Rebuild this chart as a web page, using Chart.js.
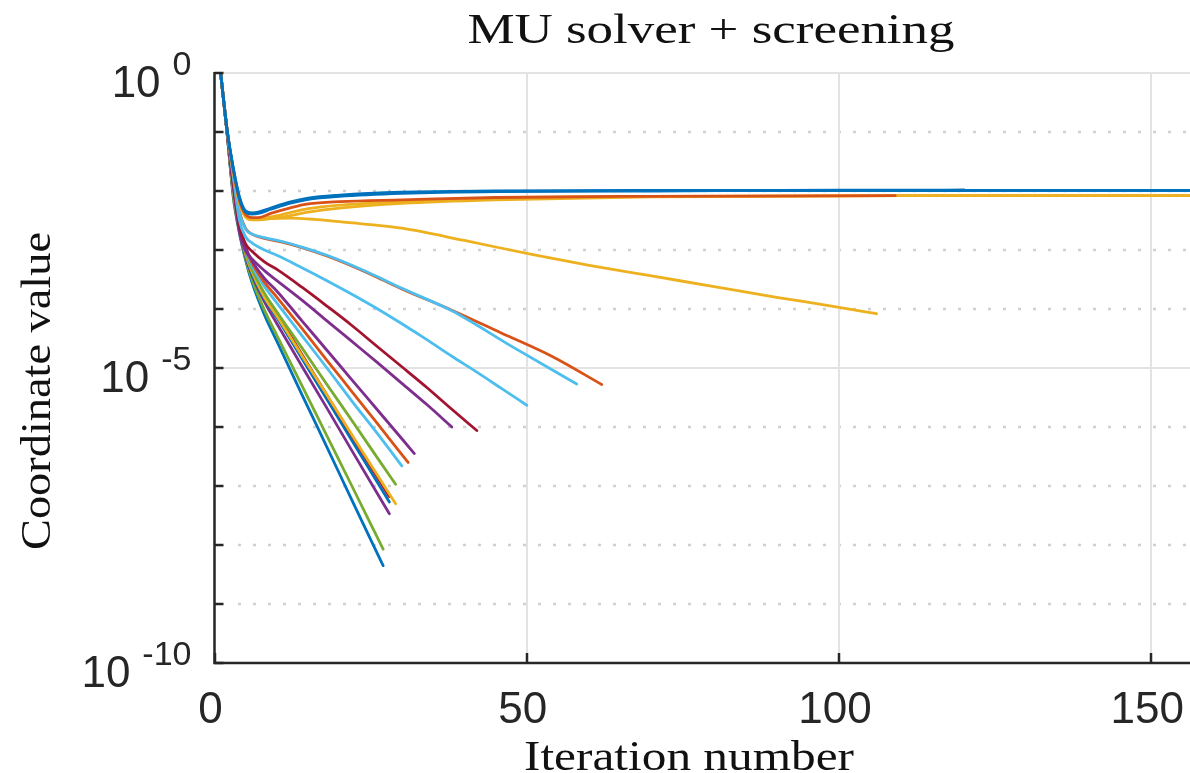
<!DOCTYPE html>
<html>
<head>
<meta charset="utf-8">
<title>MU solver + screening</title>
<script src="https://cdn.jsdelivr.net/npm/chart.js@4/dist/chart.umd.min.js"></script>
<style>
  html, body { margin: 0; padding: 0; background: #ffffff; overflow: hidden; }
  canvas { display: block; }
</style>
</head>
<body>
<canvas id="c" width="1190" height="773"></canvas>
<script>
// ---- data: coordinate value per iteration, one pair of arrays per coordinate ----
const blueFlatAIter = [1, 2, 3, 4, 5, 6, 7, 9, 12, 15, 20, 30, 45, 70, 110, 157];
const blueFlatAVal  = [0.955, 0.112, 0.0251, 7.94e-3, 4.57e-3, 4.27e-3, 4.37e-3, 5.13e-3, 6.46e-3, 7.59e-3, 8.51e-3, 9.55e-3, 1.0e-2, 1.02e-2, 1.02e-2, 1.02e-2];

const blueFlatBIter = [1, 2, 3, 4, 5, 6, 7, 9, 12, 15, 20, 30, 45, 70, 100, 120];
const blueFlatBVal  = [0.955, 0.112, 0.024, 7.59e-3, 4.37e-3, 4.07e-3, 4.17e-3, 4.90e-3, 6.17e-3, 7.24e-3, 8.13e-3, 9.12e-3, 9.77e-3, 1.0e-2, 1.03e-2, 1.04e-2];

const orangeFlatIter = [1, 2, 3, 4, 5, 6, 7, 9, 12, 15, 20, 30, 45, 70, 109];
const orangeFlatVal  = [0.955, 0.112, 0.0224, 6.76e-3, 3.98e-3, 3.55e-3, 3.55e-3, 4.17e-3, 5.13e-3, 6.03e-3, 6.61e-3, 7.08e-3, 7.76e-3, 8.13e-3, 8.32e-3];

const yellowFlatAIter = [1, 2, 3, 4, 5, 6, 7, 9, 12, 15, 20, 30, 45, 70, 110, 157];
const yellowFlatAVal  = [0.955, 0.112, 0.0224, 6.61e-3, 3.80e-3, 3.39e-3, 3.39e-3, 3.63e-3, 4.27e-3, 5.01e-3, 5.75e-3, 6.61e-3, 7.59e-3, 8.13e-3, 8.32e-3, 8.32e-3];

const yellowFlatBIter = [1, 2, 3, 4, 5, 6, 7, 9, 12, 15, 20, 30, 45, 70, 110, 157];
const yellowFlatBVal  = [0.955, 0.112, 0.0219, 6.31e-3, 3.63e-3, 3.24e-3, 3.24e-3, 3.39e-3, 3.80e-3, 4.37e-3, 5.13e-3, 6.17e-3, 7.08e-3, 7.94e-3, 8.32e-3, 8.32e-3];

const yellowSlowIter = [1, 2, 3, 4, 5, 6, 8, 12, 16, 20, 25, 30, 40, 51, 60, 70, 80, 90, 100, 106];
const yellowSlowVal  = [0.955, 0.112, 0.0219, 6.31e-3, 3.63e-3, 3.31e-3, 3.39e-3, 3.47e-3, 3.31e-3, 3.02e-3, 2.69e-3, 2.34e-3, 1.45e-3, 8.32e-4, 5.50e-4, 3.63e-4, 2.40e-4, 1.58e-4, 1.07e-4, 8.32e-5];

const orangeMidIter = [1, 2, 3, 4, 5, 6, 8, 11, 14, 18, 22, 26, 30, 38, 46, 54, 62];
const orangeMidVal  = [0.955, 0.112, 0.02, 4.47e-3, 2.29e-3, 1.86e-3, 1.58e-3, 1.35e-3, 1.10e-3, 7.94e-4, 5.37e-4, 3.47e-4, 2.19e-4, 9.55e-5, 3.89e-5, 1.58e-5, 5.25e-6];

const cyanMidAIter = [1, 2, 3, 4, 5, 6, 8, 11, 14, 18, 22, 26, 30, 38, 48, 58];
const cyanMidAVal  = [0.955, 0.112, 0.0191, 4.27e-3, 2.24e-3, 1.86e-3, 1.62e-3, 1.38e-3, 1.12e-3, 8.13e-4, 5.50e-4, 3.55e-4, 2.24e-4, 9.33e-5, 2.19e-5, 5.37e-6];

const cyanMidBIter = [1, 2, 3, 4, 5, 6, 8, 10, 14, 18, 22, 26, 30, 34, 38, 42, 46, 50];
const cyanMidBVal  = [0.955, 0.110, 0.0174, 3.16e-3, 1.66e-3, 1.32e-3, 1.0e-3, 8.13e-4, 5.01e-4, 3.02e-4, 1.78e-4, 1.02e-4, 5.62e-5, 3.02e-5, 1.58e-5, 8.51e-6, 4.47e-6, 2.34e-6];

const redMidIter = [1, 2, 3, 4, 5, 6, 8, 10, 14, 18, 22, 26, 30, 34, 38, 42];
const redMidVal  = [0.955, 0.107, 0.0141, 2.51e-3, 1.26e-3, 9.55e-4, 6.31e-4, 4.68e-4, 2.34e-4, 1.12e-4, 5.25e-5, 2.34e-5, 1.05e-5, 4.68e-6, 2.0e-6, 8.71e-7];

const purpleMidIter = [1, 2, 3, 4, 5, 6, 8, 10, 14, 18, 22, 26, 30, 34, 38];
const purpleMidVal  = [0.955, 0.107, 0.0126, 2.0e-3, 9.55e-4, 7.08e-4, 4.47e-4, 3.02e-4, 1.41e-4, 6.31e-5, 2.82e-5, 1.26e-5, 5.50e-6, 2.40e-6, 1.0e-6];

const purpleFastAIter = [1, 2, 3, 4, 5, 6, 8, 10, 14, 18, 22, 26, 32];
const purpleFastAVal  = [0.955, 0.105, 0.0126, 2.82e-3, 1.12e-3, 6.61e-4, 3.31e-4, 2.0e-4, 6.31e-5, 2.0e-5, 6.31e-6, 2.0e-6, 3.55e-7];

const orangeFastIter = [1, 2, 3, 4, 5, 6, 8, 10, 14, 18, 22, 26, 31];
const orangeFastVal  = [0.955, 0.105, 0.0120, 2.63e-3, 1.05e-3, 6.03e-4, 2.82e-4, 1.58e-4, 4.68e-5, 1.35e-5, 3.98e-6, 1.17e-6, 2.51e-7];

const cyanFastIter = [1, 2, 3, 4, 5, 6, 8, 10, 14, 18, 22, 26, 30];
const cyanFastVal  = [0.955, 0.105, 0.0112, 2.51e-3, 1.0e-3, 5.37e-4, 2.40e-4, 1.26e-4, 3.55e-5, 1.0e-5, 2.75e-6, 7.94e-7, 2.19e-7];

const greenFastAIter = [1, 2, 3, 4, 5, 6, 8, 10, 14, 18, 22, 26, 29];
const greenFastAVal  = [0.955, 0.102, 0.0105, 2.34e-3, 8.91e-4, 4.68e-4, 1.86e-4, 8.91e-5, 2.19e-5, 5.25e-6, 1.29e-6, 3.09e-7, 1.07e-7];

const yellowFastIter = [1, 2, 3, 4, 5, 6, 8, 10, 14, 18, 22, 26, 29];
const yellowFastVal  = [0.955, 0.102, 0.01, 2.24e-3, 8.32e-4, 4.27e-4, 1.58e-4, 7.59e-5, 1.62e-5, 3.47e-6, 7.41e-7, 1.58e-7, 5.01e-8];

const redFastIter = [1, 2, 3, 4, 5, 6, 8, 10, 14, 18, 22, 28];
const redFastVal  = [0.955, 0.102, 0.01, 2.29e-3, 8.71e-4, 4.47e-4, 1.74e-4, 8.32e-5, 1.70e-5, 3.47e-6, 7.08e-7, 6.61e-8];

const blueFastAIter = [1, 2, 3, 4, 5, 6, 8, 10, 14, 18, 22, 28];
const blueFastAVal  = [0.955, 0.1, 9.55e-3, 2.14e-3, 7.94e-4, 3.98e-4, 1.51e-4, 7.08e-5, 1.45e-5, 2.95e-6, 5.89e-7, 5.37e-8];

const purpleFastBIter = [1, 2, 3, 4, 5, 6, 8, 10, 14, 18, 22, 28];
const purpleFastBVal  = [0.955, 0.1, 9.33e-3, 2.09e-3, 7.59e-4, 3.72e-4, 1.32e-4, 5.62e-5, 1.07e-5, 2.09e-6, 3.98e-7, 3.39e-8];

const greenFastBIter = [1, 2, 3, 4, 5, 6, 8, 10, 14, 18, 22, 27];
const greenFastBVal  = [0.955, 0.1, 8.32e-3, 2.0e-3, 7.08e-4, 3.16e-4, 9.55e-5, 3.55e-5, 5.01e-6, 7.08e-7, 1.0e-7, 8.51e-9];

const blueFastBIter = [1, 2, 3, 4, 5, 6, 8, 10, 14, 18, 22, 27];
const blueFastBVal  = [0.955, 0.1, 7.94e-3, 1.91e-3, 6.61e-4, 2.82e-4, 7.94e-5, 2.82e-5, 3.55e-6, 4.57e-7, 5.75e-8, 4.47e-9];

// ---- axis ticks ----
const xTickValues = [0, 50, 100, 150];
const yTickExponents = [0, -5, -10];
const yDecades = [0, -1, -2, -3, -4, -5, -6, -7, -8, -9, -10];

// ---- texts ----
const titleText = 'MU solver + screening';
const xLabelText = 'Iteration number';
const yLabelText = 'Coordinate value';

// ---- line colours (MATLAB default order) ----
const C = {
  blue: '#0072BD', orange: '#D95319', yellow: '#EDB120', purple: '#7E2F8E',
  green: '#77AC30', cyan: '#4DBEEE', red: '#A2142F'
};

// first entry is painted last (on top)
const series = [
  [blueFlatAIter, blueFlatAVal, C.blue],
  [blueFlatBIter, blueFlatBVal, C.blue],
  [orangeFlatIter, orangeFlatVal, C.orange],
  [yellowFlatAIter, yellowFlatAVal, C.yellow],
  [yellowFlatBIter, yellowFlatBVal, C.yellow],
  [yellowSlowIter, yellowSlowVal, C.yellow],
  [cyanMidAIter, cyanMidAVal, C.cyan],
  [orangeMidIter, orangeMidVal, C.orange],
  [cyanMidBIter, cyanMidBVal, C.cyan],
  [redMidIter, redMidVal, C.red],
  [purpleMidIter, purpleMidVal, C.purple],
  [purpleFastAIter, purpleFastAVal, C.purple],
  [orangeFastIter, orangeFastVal, C.orange],
  [cyanFastIter, cyanFastVal, C.cyan],
  [greenFastAIter, greenFastAVal, C.green],
  [yellowFastIter, yellowFastVal, C.yellow],
  [redFastIter, redFastVal, C.red],
  [blueFastAIter, blueFastAVal, C.blue],
  [purpleFastBIter, purpleFastBVal, C.purple],
  [greenFastBIter, greenFastBVal, C.green],
  [blueFastBIter, blueFastBVal, C.blue]
];

const datasets = series.map(([it, val, color]) => ({
  data: it.map((x, i) => ({ x: x, y: val[i] })),
  borderColor: color,
  borderWidth: 2.8,
  pointRadius: 0,
  fill: false,
  cubicInterpolationMode: 'monotone',
  borderCapStyle: 'round',
  borderJoinStyle: 'round'
}));

const AXIS_COLOR = '#262626';
const TEXT_COLOR = '#111111';
const SANS = '"Liberation Sans", Arial, Helvetica, sans-serif';
const SERIF = '"Liberation Serif", "Times New Roman", serif';

// text squeezed/stretched horizontally to a given width
function fitText(ctx, text, cx, cy, width, font, angle) {
  ctx.save();
  ctx.font = font;
  const w = ctx.measureText(text).width;
  ctx.translate(cx, cy);
  if (angle) ctx.rotate(angle);
  ctx.scale(width / w, 1);
  ctx.textAlign = 'center';
  ctx.textBaseline = 'alphabetic';
  ctx.fillStyle = TEXT_COLOR;
  ctx.fillText(text, 0, 0);
  ctx.restore();
}

const matlabAxes = {
  id: 'matlabAxes',
  beforeDatasetsDraw(chart) {
    const { ctx, chartArea: a, scales: { x, y } } = chart;
    ctx.save();
    // horizontal decade grid
    yDecades.forEach(e => {
      const py = Math.round(y.getPixelForValue(Math.pow(10, e)));
      if (e === -10) return;
      ctx.beginPath();
      if (yTickExponents.includes(e)) {
        ctx.setLineDash([]);
        ctx.strokeStyle = '#e3e3e3';
        ctx.lineWidth = 2;
        ctx.moveTo(a.left, py);
      } else {
        ctx.setLineDash([3, 12]);
        ctx.strokeStyle = '#d0d0d0';
        ctx.lineWidth = 2.5;
        ctx.moveTo(a.left + 23.5, py);
      }
      ctx.lineTo(a.right, py);
      ctx.stroke();
    });
    ctx.setLineDash([]);
    // vertical grid
    xTickValues.forEach(v => {
      if (v === 0) return;
      const px = Math.round(x.getPixelForValue(v));
      ctx.beginPath();
      ctx.strokeStyle = '#e3e3e3';
      ctx.lineWidth = 2;
      ctx.moveTo(px, a.top);
      ctx.lineTo(px, a.bottom);
      ctx.stroke();
    });
    ctx.restore();
  },
  afterDatasetsDraw(chart) {
    const { ctx, chartArea: a, scales: { x, y } } = chart;
    ctx.save();
    ctx.strokeStyle = AXIS_COLOR;
    ctx.lineWidth = 2.5;
    ctx.lineCap = 'butt';
    // axis lines
    ctx.beginPath();
    ctx.moveTo(a.left, a.top - 1);
    ctx.lineTo(a.left, a.bottom);
    ctx.lineTo(a.right, a.bottom);
    ctx.stroke();
    // inward ticks
    yDecades.forEach(e => {
      const py = Math.round(y.getPixelForValue(Math.pow(10, e)));
      ctx.beginPath();
      ctx.moveTo(a.left, py);
      ctx.lineTo(a.left + 9, py);
      ctx.stroke();
    });
    xTickValues.forEach(v => {
      const px = Math.round(x.getPixelForValue(v));
      ctx.beginPath();
      ctx.moveTo(px, a.bottom);
      ctx.lineTo(px, a.bottom - 10);
      ctx.stroke();
    });

    ctx.fillStyle = AXIS_COLOR;
    ctx.textBaseline = 'alphabetic';
    // y tick labels: 10 with raised exponent
    yTickExponents.forEach(e => {
      const py = y.getPixelForValue(Math.pow(10, e));
      const expText = String(e);
      ctx.font = '34px ' + SANS;
      const ew = ctx.measureText(expText).width;
      const expLeft = a.left - 23 - ew;
      ctx.textAlign = 'left';
      ctx.fillText(expText, expLeft, py + 2);
      ctx.font = '44px ' + SANS;
      ctx.textAlign = 'right';
      ctx.fillText('10', expLeft - 12, py + 24);
    });
    // x tick labels
    ctx.font = '44px ' + SANS;
    ctx.textAlign = 'center';
    xTickValues.forEach(v => {
      const px = x.getPixelForValue(v);
      ctx.fillText(String(v), px - 4, 723);
    });

    // title and axis titles
    fitText(ctx, titleText, 711, 43, 487, '42px ' + SERIF, 0);
    fitText(ctx, xLabelText, 689, 770, 330, '42px ' + SERIF, 0);
    fitText(ctx, yLabelText, 50, 391, 318, '42px ' + SERIF, -Math.PI / 2);
    ctx.restore();
  }
};

new Chart(document.getElementById('c'), {
  type: 'line',
  data: { datasets },
  options: {
    responsive: false,
    animation: false,
    devicePixelRatio: 1,
    layout: { padding: { top: 73, right: 0, bottom: 0, left: 0 } },
    plugins: {
      legend: { display: false },
      tooltip: { enabled: false },
      title: { display: false }
    },
    scales: {
      x: {
        type: 'linear',
        min: 0,
        max: 156.2,
        ticks: { display: false },
        grid: { display: false },
        border: { display: false },
        afterFit: s => { s.height = 110; }
      },
      y: {
        type: 'logarithmic',
        min: 1e-10,
        max: 1,
        ticks: { display: false },
        grid: { display: false },
        border: { display: false },
        afterFit: s => { s.width = 214.5; }
      }
    }
  },
  plugins: [matlabAxes]
});
</script>
</body>
</html>
